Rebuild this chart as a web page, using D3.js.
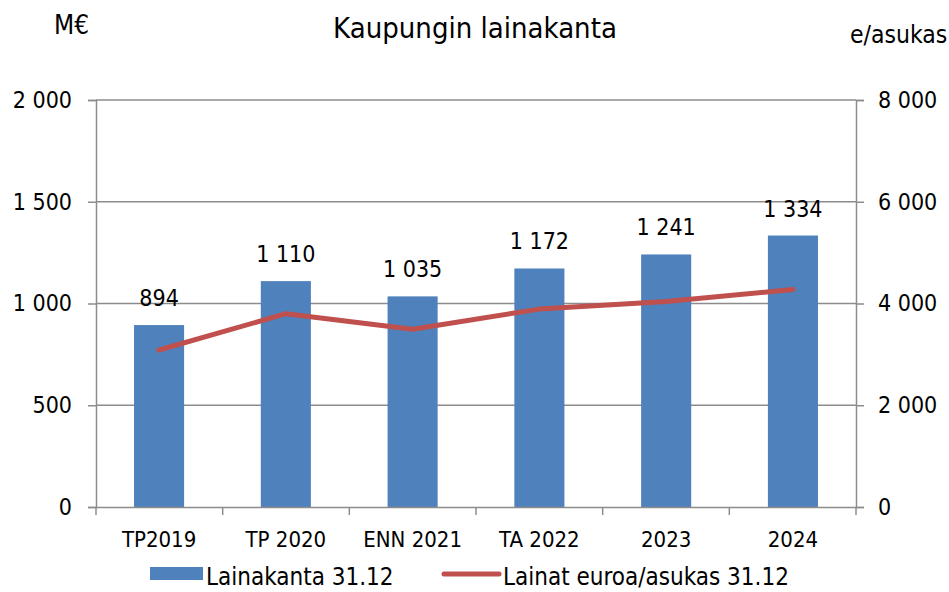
<!DOCTYPE html>
<html><head><meta charset="utf-8">
<script src="https://cdn.jsdelivr.net/npm/d3@7"></script>
<style>
body{margin:0;background:#fff}
text{font-family:"Liberation Sans Narrow","DejaVu Sans Condensed","Arial Narrow",sans-serif;fill:#000}
</style></head><body>
<svg id="c" width="949" height="592"></svg>
<script>
const categories = ["TP2019","TP 2020","ENN 2021","TA 2022","2023","2024"];
const loanStock = [894,1110,1035,1172,1241,1334];
const perResident = [3086,3800,3495,3890,4040,4275];
const leftTicks = [0,500,1000,1500,2000];
const rightTicks = [0,2000,4000,6000,8000];
const title = "Kaupungin lainakanta";
const leftUnit = "M€";
const rightUnit = "e/asukas";
const seriesNames = ["Lainakanta 31.12","Lainat euroa/asukas 31.12"];

const fmt = v => d3.format(",")(v).replace(/,/g," ");
const svg = d3.select("#c");
const L=96, R=856, T=100, B=507;
const x = d3.scaleBand().domain(categories).range([L,R]).paddingInner(0.605).paddingOuter(0.3);
const yL = d3.scaleLinear().domain([0,2000]).range([B,T]);
const yR = d3.scaleLinear().domain([0,8000]).range([B,T]);
const grid="#8c8c8c";

// gridlines
svg.append("g").selectAll("line").data(leftTicks.filter(d=>d>0)).join("line")
  .attr("x1",L).attr("x2",R).attr("y1",d=>yL(d)).attr("y2",d=>yL(d))
  .attr("stroke",grid).attr("stroke-width",1.5);

// bars
svg.append("g").selectAll("rect").data(loanStock).join("rect")
  .attr("x",(d,i)=>x(categories[i])).attr("width",x.bandwidth())
  .attr("y",d=>yL(d)).attr("height",d=>B-yL(d)).attr("fill","#4F81BD");

// axes
const gl = svg.append("g").attr("transform",`translate(${L},0)`).call(d3.axisLeft(yL).tickValues(leftTicks).tickFormat(fmt).tickSize(8).tickPadding(16));
const gr = svg.append("g").attr("transform",`translate(${R},0)`).call(d3.axisRight(yR).tickValues(rightTicks).tickFormat(fmt).tickSize(8).tickPadding(14));
[gl,gr].forEach(g=>{g.select(".domain").attr("stroke",grid).attr("stroke-width",1.5);
  g.selectAll(".tick line").attr("stroke",grid).attr("stroke-width",1.5);
  g.selectAll("text").style("font-size","23px").attr("fill","#000");});
// x axis
const step = (R-L)/categories.length;
const gx = svg.append("g").attr("transform",`translate(0,${B})`).call(d3.axisBottom(x).tickSize(0).tickPadding(24));
gx.select(".domain").attr("stroke",grid).attr("stroke-width",1.5);
gx.selectAll("text").style("font-size","22px").attr("fill","#000");
svg.append("g").selectAll("line").data(d3.range(categories.length+1)).join("line")
  .attr("x1",i=>L+i*step).attr("x2",i=>L+i*step).attr("y1",B).attr("y2",B+8)
  .attr("stroke",grid).attr("stroke-width",1.5);

// line
const line = d3.line().x((d,i)=>x(categories[i])+x.bandwidth()/2).y(d=>yR(d));
svg.append("path").datum(perResident).attr("d",line).attr("fill","none")
  .attr("stroke","#C0504D").attr("stroke-width",5).attr("stroke-linecap","round").attr("stroke-linejoin","round");

// value labels
svg.append("g").selectAll("text").data(loanStock).join("text")
  .attr("x",(d,i)=>x(categories[i])+x.bandwidth()/2).attr("y",d=>yL(d)-19)
  .attr("text-anchor","middle").style("font-size","23px").text(fmt);

// titles
svg.append("text").attr("x",475).attr("y",38).attr("text-anchor","middle").style("font-size","29px").text(title);
svg.append("text").attr("x",54).attr("y",34).style("font-size","26px").text(leftUnit);
svg.append("text").attr("x",850).attr("y",43).style("font-size","24.5px").text(rightUnit);

// legend
svg.append("rect").attr("x",150).attr("y",567).attr("width",53).attr("height",13).attr("fill","#4F81BD");
svg.append("text").attr("x",206).attr("y",585).style("font-size","24px").text(seriesNames[0]);
svg.append("line").attr("x1",444).attr("x2",499).attr("y1",574).attr("y2",574).attr("stroke","#C0504D").attr("stroke-width",5).attr("stroke-linecap","round");
svg.append("text").attr("x",503).attr("y",585).style("font-size","24px").text(seriesNames[1]);
</script></body></html>
